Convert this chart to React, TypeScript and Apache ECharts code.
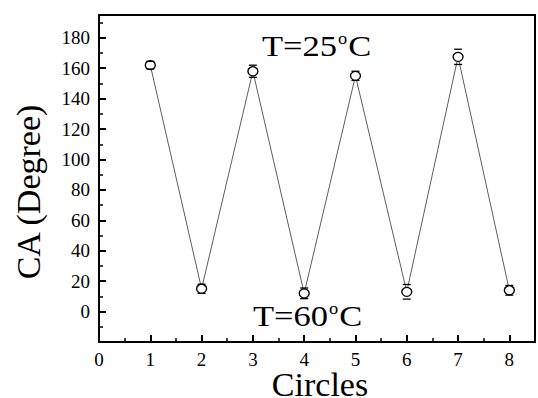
import React, { useEffect, useRef } from "react";
import * as echarts from "echarts";

const circles = [1, 2, 3, 4, 5, 6, 7, 8];
const caValues = [162, 15, 158, 12, 155, 13, 167.5, 14];
const caErrors = [2.5, 3, 4, 3.5, 3, 4.8, 5, 3.2];
const yTickLabels = [0, 20, 40, 60, 80, 100, 120, 140, 160, 180];
const xTickLabels = [0, 1, 2, 3, 4, 5, 6, 7, 8];
const xTitle = "Circles";
const yTitle = "CA (Degree)";
const annotHigh = ["T=25", "o", "C"];
const annotLow = ["T=60", "o", "C"];

const FONT = "Liberation Serif";

function annotation(parts: string[], left: number, mid: number) {
  const sx = 1.15;
  const big = 30;
  const small = 16;
  const w1 = (0.611 + 0.564 + 0.5 + 0.5) * big * sx;
  const w2 = 0.5 * small * sx;
  const base = { fill: "#000", fontFamily: FONT, align: "left", verticalAlign: "middle" };
  return {
    type: "group",
    children: [
      { type: "text", x: left, y: mid, scaleX: sx, style: { ...base, text: parts[0], fontSize: big } },
      { type: "text", x: left + w1 + 1, y: mid - 7, scaleX: sx, style: { ...base, text: parts[1], fontSize: small } },
      { type: "text", x: left + w1 + w2 + 2, y: mid, scaleX: sx, style: { ...base, text: parts[2], fontSize: big } },
    ],
  };
}

export default function App() {
  const ref = useRef<HTMLDivElement>(null);
  useEffect(() => {
    if (!ref.current) return;
    const chart = echarts.init(ref.current, null, { renderer: "svg" });
    const points = circles.map((c, i) => [c, caValues[i]]);
    const errData = circles.map((c, i) => [c, caValues[i], caErrors[i]]);
    const labelStyle = { color: "#000", fontFamily: FONT, fontSize: 19 };
    chart.setOption({
      animation: false,
      backgroundColor: "#fff",
      grid: { left: 99, top: 15, right: 1, bottom: 56, show: true, borderColor: "#000", borderWidth: 2, backgroundColor: "transparent" },
      xAxis: [
        {
          type: "value",
          min: 0,
          max: 8.5,
          interval: 1,
          position: "bottom",
          axisLine: { show: true, onZero: false, lineStyle: { color: "#000", width: 2 } },
          axisTick: { show: true, inside: true, length: 7, lineStyle: { color: "#000", width: 2 } },
          axisLabel: {
            ...labelStyle,
            margin: 8,
            formatter: (v: number) => (xTickLabels.includes(v) ? String(v) : ""),
          },
          splitLine: { show: false },
        },
        {
          type: "value",
          min: 0,
          max: 8.5,
          interval: 0.5,
          position: "bottom",
          axisLine: { show: false, onZero: false },
          axisTick: { show: true, inside: true, length: 4, lineStyle: { color: "#000", width: 1.5 } },
          axisLabel: { show: false },
          splitLine: { show: false },
        },
      ],
      yAxis: [
        {
          type: "value",
          min: -20,
          max: 195,
          interval: 20,
          position: "left",
          axisLine: { show: true, onZero: false, lineStyle: { color: "#000", width: 2 } },
          axisTick: { show: true, inside: true, length: 7, lineStyle: { color: "#000", width: 2 } },
          axisLabel: {
            ...labelStyle,
            margin: 9,
            formatter: (v: number) => (yTickLabels.includes(v) ? String(v) : ""),
          },
          splitLine: { show: false },
        },
        {
          type: "value",
          min: -20,
          max: 195,
          interval: 10,
          position: "left",
          offset: 0,
          axisLine: { show: false, onZero: false },
          axisTick: { show: true, inside: true, length: 4, lineStyle: { color: "#000", width: 1.5 } },
          axisLabel: { show: false },
          splitLine: { show: false },
        },
      ],
      series: [
        {
          type: "line",
          data: points,
          xAxisIndex: 0,
          yAxisIndex: 0,
          symbol: "circle",
          symbolSize: [10, 9],
          lineStyle: { color: "#333", width: 0.8 },
          itemStyle: { color: "#fff", borderColor: "#000", borderWidth: 1.3 },
          z: 3,
        },
        {
          type: "custom",
          xAxisIndex: 0,
          yAxisIndex: 0,
          data: errData,
          z: 4,
          renderItem: (params: any, api: any) => {
            const x = api.value(0);
            const y = api.value(1);
            const e = api.value(2);
            const hi = api.coord([x, y + e]);
            const lo = api.coord([x, y - e]);
            const hw = 4;
            const st = { stroke: "#000", lineWidth: 1.3 };
            return {
              type: "group",
              children: [
                { type: "line", shape: { x1: hi[0] - hw, y1: hi[1], x2: hi[0] + hw, y2: hi[1] }, style: st },
                { type: "line", shape: { x1: lo[0] - hw, y1: lo[1], x2: lo[0] + hw, y2: lo[1] }, style: st },
              ],
            };
          },
        },
      ],
      graphic: [
        {
          type: "text",
          x: 28,
          y: 192,
          rotation: Math.PI / 2,
          style: { text: yTitle, fontFamily: FONT, fontSize: 34, fill: "#000", align: "center", verticalAlign: "middle" },
        },
        {
          type: "text",
          x: 320,
          y: 384,
          style: { text: xTitle, fontFamily: FONT, fontSize: 34, lineHeight: 26, fill: "#000", align: "center", verticalAlign: "middle" },
        },
        annotation(annotHigh, 262, 46),
        annotation(annotLow, 253, 316),
      ],
    });
    return () => chart.dispose();
  }, []);
  return <div ref={ref} style={{ position: "fixed", left: 0, top: 0, width: 538, height: 398 }} />;
}
